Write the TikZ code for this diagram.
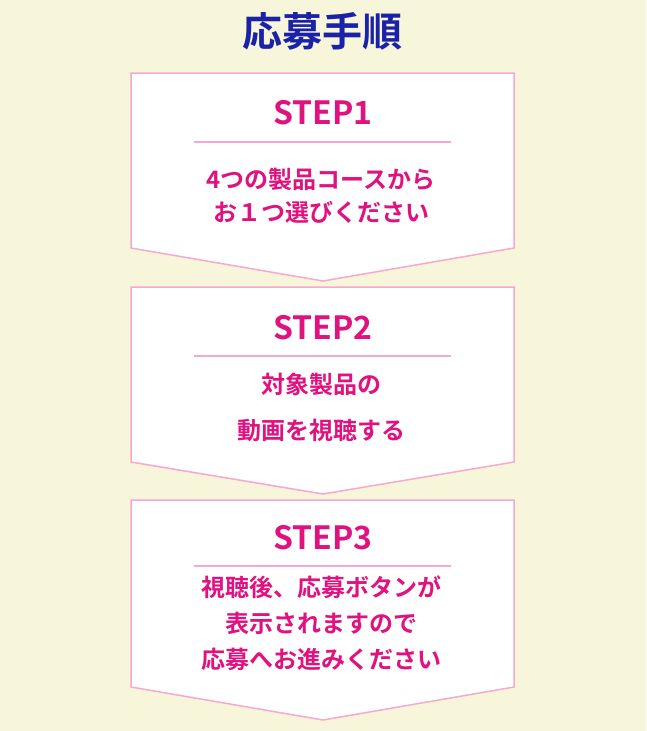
\documentclass[tikz,border=0pt]{standalone}
\usepackage{fontspec}
\newfontfamily\jp{Noto Sans CJK JP Bold}
\definecolor{bg}{HTML}{F8F6DA}
\definecolor{pinkline}{HTML}{F7A8D0}
\definecolor{mag}{HTML}{E0127F}
\definecolor{navy}{HTML}{1A22A8}
\tikzset{x=1pt,y=-1pt,
 arrowbox/.style={draw=pinkline,line width=1.5pt,fill=white},
 steplabel/.style={text=mag,font=\jp\fontsize{32}{34}\selectfont},
 body/.style={text=mag,font=\jp\fontsize{24}{33}\selectfont,align=center},
 rule/.style={draw=pinkline,line width=1.2pt}}
\begin{document}
\begin{tikzpicture}
\fill[bg] (0,0) rectangle (646,731);
\useasboundingbox (0,0) rectangle (646,731);
\node[text=navy,font=\jp\fontsize{40}{42}\selectfont] (title) at (322,31) {応募手順};
% box 1
\draw[arrowbox] (131,73) -- (514,73) -- (514,248) -- (323,281) -- (131,248) -- cycle;
\node[steplabel] (s1) at (323,113) {STEP1};
\draw[rule] (194,142) -- (451,142);
\node[body] (t1) at (321,196) {4つの製品コースから\\お１つ選びください};
% box 2
\draw[arrowbox] (131,287) -- (514,287) -- (514,462) -- (323,494) -- (131,462) -- cycle;
\node[steplabel] (s2) at (323,328) {STEP2};
\draw[rule] (194,356) -- (451,356);
\node[body] (t2) at (321,407) {対象製品の\\[13pt]動画を視聴する};
% box 3
\draw[arrowbox] (131,500) -- (514,500) -- (514,687) -- (323,720) -- (131,687) -- cycle;
\node[steplabel] (s3) at (323,538) {STEP3};
\draw[rule] (194,566) -- (451,566);
\node[body,font=\jp\fontsize{24}{36}\selectfont] (t3) at (321,623) {視聴後、応募ボタンが\\表示されますので\\応募へお進みください};
\end{tikzpicture}
\end{document}
